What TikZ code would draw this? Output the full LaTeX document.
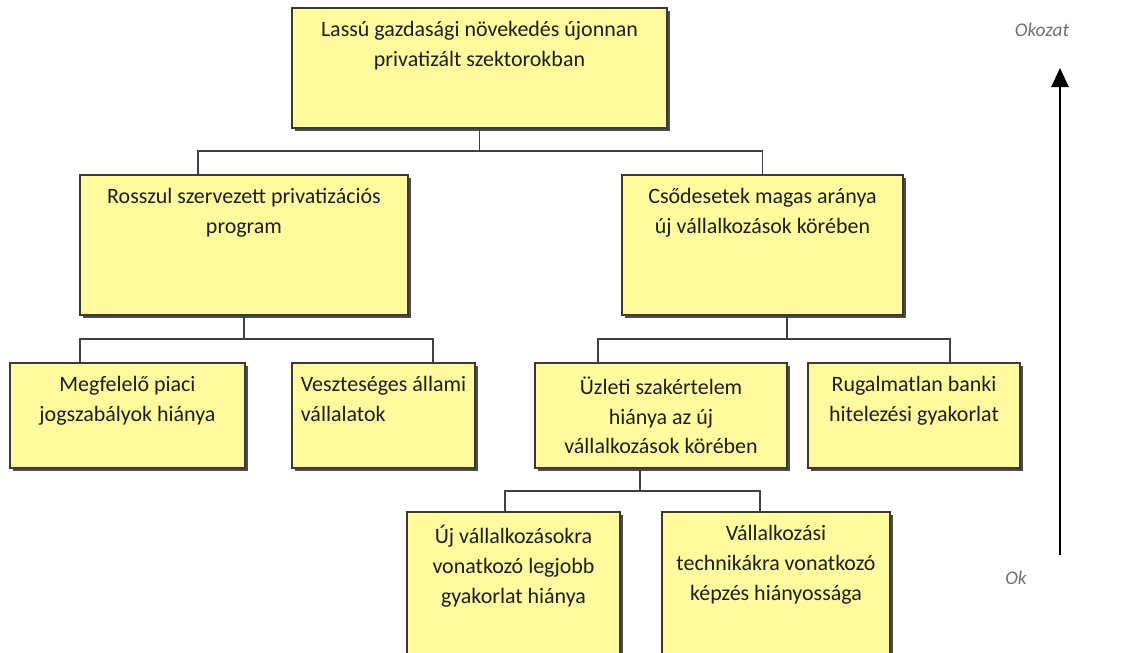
\documentclass[tikz,border=0pt]{standalone}
\usepackage{fontspec}
\setmainfont{Carlito}
\usetikzlibrary{arrows.meta,shadows,positioning}
\definecolor{boxfill}{HTML}{FFFA9E}
\definecolor{boxline}{HTML}{3A3A32}
\definecolor{lblgray}{HTML}{707070}

\begin{document}
\begin{tikzpicture}[x=0.02cm, y=-0.02cm,
  cb/.style n args={2}{rectangle, draw=boxline, line width=0.9pt, fill=boxfill, minimum width=#1, minimum height=#2, inner sep=0pt,
    drop shadow={shadow xshift=1.8pt, shadow yshift=-1.8pt, fill=black!70, opacity=1}},
  txt/.style={anchor=north, yshift=-8pt, inner sep=0pt, align=center, font=\fontsize{12.5}{17}\selectfont, text=black!88},
  conn/.style={draw=black!75, line width=0.9pt},
  axis/.style={font=\fontsize{11}{13}\selectfont\itshape, text=lblgray}
]
  \useasboundingbox (0,0) rectangle (1137,653);
  \fill[white] (0,0) rectangle (1137,653);
  \clip (0,0) rectangle (1137,653);

  % boxes
  \node[cb={7.5cm}{2.4cm}, label={[txt]north:{Lassú gazdasági növekedés újonnan\\privatizált szektorokban}}] (slow) at (479.5,68) {};
  \node[cb={6.56cm}{2.8cm}, label={[txt]north:{Rosszul szervezett privatizációs\\program}}] (badprog) at (244,245) {};
  \node[cb={5.62cm}{2.8cm}, label={[txt]north:{Csődesetek magas aránya\\új vállalkozások körében}}] (failrate) at (762.5,245) {};
  \node[cb={4.7cm}{2.1cm}, label={[txt]north:{Megfelelő piaci\\jogszabályok hiánya}}] (nolaw) at (127.5,415.5) {};
  \node[cb={3.66cm}{2.1cm}, label={[txt, align=left]north:{Veszteséges állami\\vállalatok}}] (lossfirm) at (383.5,415.5) {};
  \node[cb={5.04cm}{2.1cm}, label={[txt]north:{Üzleti szakértelem\\hiánya az új\\vállalkozások körében}}] (noskill) at (661,415.5) {};
  \node[cb={4.24cm}{2.1cm}, label={[txt]north:{Rugalmatlan banki\\hitelezési gyakorlat}}] (bank) at (914,415.5) {};
  \node[cb={4.26cm}{3.2cm}, label={[txt]north:{Új vállalkozásokra\\vonatkozó legjobb\\gyakorlat hiánya}}] (nobest) at (513.5,592) {};
  \node[cb={4.56cm}{3.2cm}, label={[txt]north:{Vállalkozási\\technikákra vonatkozó\\képzés hiányossága}}] (notrain) at (776,592) {};

  % tree connectors
  \foreach \n/\d in {badprog/-0.92cm, failrate/0cm}
    \draw[conn] (slow.south) -- ++(0,22) -| ([xshift=\d]\n.north);
  \foreach \n/\d in {nolaw/-0.95cm, lossfirm/0.99cm}
    \draw[conn] (badprog.south) -- ++(0,23) -| ([xshift=\d]\n.north);
  \foreach \n/\d in {noskill/-1.26cm, bank/0.72cm}
    \draw[conn] ([xshift=0.49cm]failrate.south) -- ++(0,23) -| ([xshift=\d]\n.north);
  \foreach \n/\d in {nobest/-0.17cm, notrain/-0.32cm}
    \draw[conn] ([xshift=-0.42cm]noskill.south) -- ++(0,22) -| ([xshift=\d]\n.north);

  % cause-effect axis
  \node[axis] (effectlbl) at (1042,30) {Okozat};
  \node[axis] (causelbl) at (1016,578) {Ok};
  \coordinate (cause) at (1060,555);
  \coordinate (effect) at (1060,68);
  \draw[-{Triangle[length=0.38cm,width=0.34cm]}, line width=1.6pt] (cause) -- (effect);
\end{tikzpicture}
\end{document}
